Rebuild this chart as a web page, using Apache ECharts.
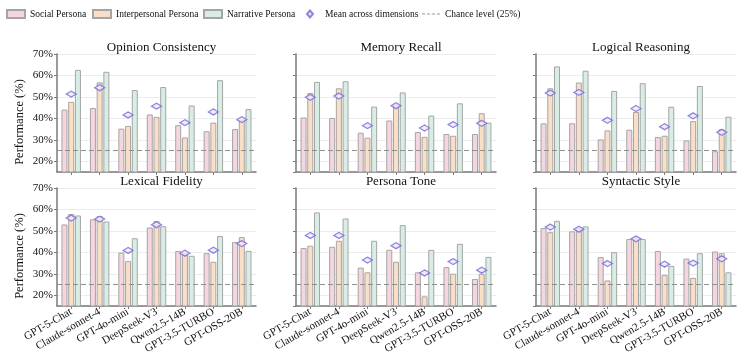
<!DOCTYPE html>
<html>
<head>
<meta charset="utf-8">
<script src="https://cdn.jsdelivr.net/npm/echarts@6/dist/echarts.min.js"></script>
<style>
  html, body { margin: 0; padding: 0; background: #fff; }
  #chart { width: 753px; height: 359px; }
</style>
</head>
<body>
<div id="chart"></div>
<script>
var models = ['GPT-5-Chat', 'Claude-sonnet-4', 'GPT-4o-mini', 'DeepSeek-V3', 'Qwen2.5-14B', 'GPT-3.5-TURBO', 'GPT-OSS-20B'];
var dimensions = ['Opinion Consistency', 'Memory Recall', 'Logical Reasoning', 'Lexical Fidelity', 'Persona Tone', 'Syntactic Style'];

// one row per dimension, same order as above
var socialPersona = [
	[44.1, 44.8, 35.2, 41.8, 36.8, 34.0, 35.0],
	[40.4, 40.2, 33.3, 39.0, 33.6, 32.7, 32.7],
	[37.7, 37.7, 30.2, 34.7, 31.3, 29.7, 24.7],
	[53.0, 55.4, 39.9, 51.6, 40.6, 39.6, 44.8],
	[42.0, 42.6, 32.9, 41.2, 30.7, 33.1, 27.6],
	[51.3, 49.8, 37.8, 46.2, 40.6, 37.1, 40.4]
];
var interpersonalPersona = [
	[47.7, 56.8, 36.5, 40.7, 31.1, 38.0, 39.4],
	[51.8, 54.0, 31.0, 46.5, 31.4, 31.9, 42.4],
	[54.0, 56.7, 34.4, 43.0, 31.9, 38.7, 34.9],
	[57.9, 56.9, 35.9, 54.6, 39.6, 35.6, 47.1],
	[43.1, 45.4, 30.7, 35.6, 19.5, 30.1, 30.0],
	[49.4, 51.3, 26.9, 46.6, 29.5, 28.1, 39.6]
];
var narrativePersona = [
	[62.6, 61.7, 53.2, 54.6, 46.0, 57.8, 44.3],
	[57.0, 57.3, 45.5, 52.1, 41.3, 47.0, 38.0],
	[64.2, 62.2, 52.8, 56.4, 45.4, 55.1, 40.8],
	[57.2, 54.4, 46.6, 52.2, 38.4, 47.6, 40.7],
	[58.6, 55.8, 45.4, 52.7, 41.2, 44.0, 37.9],
	[54.7, 52.1, 40.1, 46.2, 33.7, 39.6, 30.7]
];
var meanAcross = [
	[51.3, 54.3, 41.6, 45.7, 38.0, 43.0, 39.4],
	[49.8, 50.4, 36.6, 45.9, 35.5, 37.1, 37.7],
	[51.8, 52.1, 39.1, 44.6, 36.1, 41.2, 33.5],
	[56.0, 55.5, 40.9, 52.9, 39.6, 41.0, 44.1],
	[47.9, 47.9, 36.4, 43.1, 30.4, 35.7, 31.7],
	[51.8, 50.8, 34.8, 46.3, 34.5, 35.0, 37.0]
];
var chanceLevel = 25;

var font = 'Liberation Serif';
var axisColor = '#7a7a7a';
var colors = ['#f6d6de', '#fadfc6', '#d8eee5'];
var names = ['Social Persona', 'Interpersonal Persona', 'Narrative Persona', 'Mean across dimensions', 'Chance level (25%)'];

var chart = echarts.init(document.getElementById('chart'));

var lefts = [57, 296, 536];
var widths = [199, 200, 200];
var tops = [54, 188];
var h = 118;

var grids = [], xAxes = [], yAxes = [], titles = [], series = [];

for (var p = 0; p < 6; p++) {
	var col = p % 3, row = Math.floor(p / 3);
	grids.push({ left: lefts[col], top: tops[row], width: widths[col], height: h });
	titles.push({
		text: dimensions[p],
		left: lefts[col] + widths[col] / 2,
		top: tops[row] - 18,
		textAlign: 'center',
		textStyle: { fontFamily: font, fontSize: 13, fontWeight: 'normal', color: '#111' }
	});
	xAxes.push({
		type: 'category',
		gridIndex: p,
		data: models,
		axisLine: { lineStyle: { color: axisColor, width: 1.5 } },
		axisTick: { show: true, alignWithLabel: true, length: 3, lineStyle: { color: axisColor } },
		axisLabel: {
			show: row === 1,
			rotate: 30,
			interval: 0,
			margin: 5,
			fontFamily: font,
			fontSize: 11,
			color: '#111'
		}
	});
	yAxes.push({
		type: 'value',
		gridIndex: p,
		min: 15,
		max: 70,
		splitNumber: 6,
		name: col === 0 ? 'Performance (%)' : '',
		nameLocation: 'middle',
		nameGap: 31,
		nameTextStyle: { fontFamily: font, fontSize: 12.5, color: '#111', padding: [0, 18, 0, 0] },
		axisLine: { show: true, lineStyle: { color: axisColor, width: 1.5 } },
		axisTick: { show: true, length: 3, lineStyle: { color: axisColor } },
		splitLine: { show: true, lineStyle: { color: '#ececec', width: 1 } },
		axisLabel: {
			show: col === 0,
			showMinLabel: false,
			margin: 4,
			fontFamily: font,
			fontSize: 11,
			color: '#111',
			formatter: function (v) { return v % 10 === 0 ? v + '%' : ''; }
		}
	});

	var groups = [socialPersona, interpersonalPersona, narrativePersona];
	for (var s = 0; s < 3; s++) {
		series.push({
			name: names[s],
			type: 'bar',
			xAxisIndex: p,
			yAxisIndex: p,
			barWidth: 6,
			barGap: '12%',
			data: groups[s][p],
			itemStyle: { color: colors[s], borderColor: '#a5a5a5', borderWidth: 1 },
			z: 2
		});
	}
	series.push({
		name: names[4],
		type: 'line',
		xAxisIndex: p,
		yAxisIndex: p,
		data: [],
		symbol: 'none',
		lineStyle: { color: '#999', type: [4, 3], width: 1.2 },
		itemStyle: { color: '#999' },
		markLine: {
			silent: true,
			symbol: 'none',
			label: { show: false },
			lineStyle: { color: '#8f8f8f', type: [5, 3], width: 1.2 },
			data: [{ yAxis: chanceLevel }]
		},
		z: 3
	});
	series.push({
		name: names[3],
		type: 'scatter',
		xAxisIndex: p,
		yAxisIndex: p,
		data: meanAcross[p],
		symbol: 'diamond',
		symbolSize: [10, 6],
		itemStyle: { color: '#ebe7fb', borderColor: '#7766d4', borderWidth: 1.3 },
		z: 5
	});
}

// legends placed one by one to match the reference spacing
var dashIcon = 'path://M0,0h3.2v1h-3.2zM4.9,0h3.2v1h-3.2zM9.8,0h3.2v1h-3.2zM14.8,0h3.2v1h-3.2z';
var legendCfg = [
	{ left: 6, icon: 'rect', w: 18, h: 8 },
	{ left: 92, icon: 'rect', w: 18, h: 8 },
	{ left: 203, icon: 'rect', w: 18, h: 8 },
	{ left: 306, icon: 'diamond', w: 6, h: 7, pad: 7 },
	{ left: 422, icon: dashIcon, w: 18, h: 1.2 }
];
var legends = legendCfg.map(function (c, i) {
	return {
		data: [{ name: names[i], icon: c.icon }],
		left: c.left,
		top: 9,
		padding: 0,
		itemWidth: c.w,
		itemHeight: c.h,
		textStyle: { fontFamily: font, fontSize: 9.5, color: '#111', padding: [0, 0, 0, c.pad || 0] },
		selectedMode: false
	};
});

var option = {
	backgroundColor: '#fff',
	animation: false,
	title: titles,
	legend: legends,
	grid: grids,
	xAxis: xAxes,
	yAxis: yAxes,
	series: series
};

chart.setOption(option);
</script>
</body>
</html>
